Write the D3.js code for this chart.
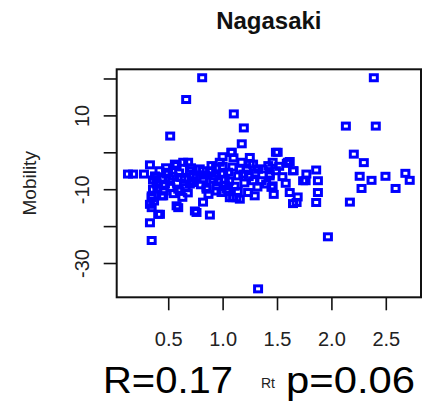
<!DOCTYPE html>
<html><head><meta charset="utf-8">
<script src="https://cdn.jsdelivr.net/npm/d3@7"></script>
<style>body{margin:0;background:#fff}svg{display:block}text{font-family:"Liberation Sans",Arial,sans-serif}</style>
</head><body>
<svg id="c" width="423" height="404"></svg>
<script>
const title = "Nagasaki";
const xLabel = "Rt";
const yLabel = "Mobility";
const rtValues = [
0.13,0.177,0.277,0.332,0.378,0.393,0.348,0.44,0.348,0.408,0.424,0.348,0.332,0.332,0.348,0.518,
0.561,0.683,0.638,0.485,0.515,0.592,0.577,0.592,0.454,0.454,0.47,0.393,0.653,0.715,0.699,0.745,0.76,0.76,0.73,0.73,0.607,0.699,0.5,0.577,
0.665,0.812,
0.79,0.82,0.82,0.852,0.852,0.82,0.883,0.928,0.913,0.944,0.944,0.898,0.974,1.005,1.02,1.05,1.05,1.036,0.99,1.066,1.096,1.127,1.158,1.08,1.084,1.103,1.195,1.176,1.173,1.19,1.142,1.234,1.25,1.25,1.28,1.28,1.357,1.295,1.326,1.326,1.433,1.433,1.449,1.46,1.46,1.49,1.506,1.49,
1.59,1.6,1.617,1.647,1.653,1.77,1.86,1.763,1.74,1.876,1.876,1.86,1.617,1.69,1.647,1.68,1.968,
2.39,2.133,2.408,2.206,2.298,2.26,2.369,2.497,2.68,2.72,2.59,2.277,2.17,
0.36,0.40,0.42,0.44,0.46,0.48,0.52,0.54,0.55,0.58,0.60,0.62,0.63,0.66,0.68,0.71,0.36,0.37,
0.80,0.84,0.87,0.90,0.94,0.96,1.00,1.02,1.06,1.09,1.11,1.14,1.16,1.20,1.22,1.24,1.30,1.32,1.37,1.40,1.42,1.10,1.00,1.52,1.55,1.58,1.47
];
const mobilityValues = [
-5.9,-5.9,-5.9,-3.4,-6.4,-8.6,-11.8,-11.8,-15,-16.8,-16.8,-12.3,-14.1,-19.1,-23.9,4.4,
-3.2,-2.7,-2.7,-5.9,-7.3,-10,-14.5,-15,-9.1,-11.8,-8.6,-6.8,-7.3,-8.2,-8.6,-15.9,-16.3,-6.8,-6.4,-7.7,-10.5,-5,-5.4,-3.6,
14.3,20.2,
-4.5,-5,-7.3,-9.5,-10,-13.5,-17,-6.4,-7.3,-10.5,-9.1,-3.6,-2.7,-5.9,-7.3,-5.4,-10,-10,-10.9,-12.3,-12.3,-12.3,-12.7,0,0,10.4,6.6,2.3,-2.7,-5.9,-6.4,-10.9,-1.4,-3.2,-3.2,-7.7,-7.7,-11.8,-4.6,-37,-5.9,-6.4,-9.5,-2.7,-9.1,0,0,-5,
-3,-2.7,-2.5,-5,-5,-5.9,-4.8,-7.7,-7.7,-7.7,-10.9,-13.6,-10.9,-12.1,-13.9,-13.6,-22.9,
20.2,7.1,7.1,-0.5,-2.8,-6.5,-7.6,-6.5,-5.7,-7.6,-9.8,-9.8,-13.5,
-7.5,-9.8,-5,-7.2,-10.5,-4.2,-9.5,-6.5,-11.2,-8.4,-5.6,-6.8,-12.2,-9.6,-11,-4.2,-10,-13.2,
-8.8,-6.2,-11.4,-5,-4.2,-8,-3.8,-9,-7.8,-4,-9.2,-10.6,-4.6,-8.3,-4.4,-6.6,-5.6,-9.4,-4.5,-8.6,-3.6,-1.5,-1.2,-3.8,-6.6,-8.4,-11.4
];
const xTicks = [0.5,1.0,1.5,2.0,2.5];
const yTicks = [20,10,0,-10,-20,-30];
const yTickLabels = ["","10","","-10","","-30"];
const statLeft = "R=0.17";
const statRight = "p=0.06";

const svg = d3.select("#c");
const L = 116.7, R = 421, T = 69.3, B = 297.3;
function pad(ext){const s=ext[1]-ext[0];return [ext[0]-0.04*s, ext[1]+0.04*s];}
const x = d3.scaleLinear().domain(pad(d3.extent(rtValues))).range([L,R]);
const y = d3.scaleLinear().domain(pad(d3.extent(mobilityValues))).range([B,T]);

const pts = rtValues.map((v,i)=>({x:v,y:mobilityValues[i]}));
svg.append("g").selectAll("rect").data(pts).join("rect")
  .attr("x",d=>x(d.x)-3.5).attr("y",d=>y(d.y)-3)
  .attr("width",7).attr("height",6)
  .attr("fill","none").attr("stroke","#0000ff").attr("stroke-width",3);

svg.append("rect").attr("x",L).attr("y",T).attr("width",R-L).attr("height",B-T)
  .attr("fill","none").attr("stroke","#111").attr("stroke-width",2);

const xa = svg.append("g").attr("transform",`translate(0,${B})`)
  .call(d3.axisBottom(x).tickValues(xTicks).tickFormat(d3.format(".1f")).tickSize(13).tickPadding(22));
xa.select(".domain").remove();
xa.selectAll("line").attr("stroke","#111").attr("stroke-width",1.6);
xa.selectAll("text").attr("font-size",20).attr("fill","#222").attr("font-family","Liberation Sans, Arial, sans-serif");

const ya = svg.append("g").attr("transform",`translate(${L},0)`)
  .call(d3.axisLeft(y).tickValues(yTicks).tickFormat((d,i)=>yTickLabels[i]).tickSize(13));
ya.select(".domain").remove();
ya.selectAll("line").attr("stroke","#111").attr("stroke-width",1.6);
ya.selectAll("text").attr("font-size",20).attr("fill","#222")
  .attr("font-family","Liberation Sans, Arial, sans-serif")
  .attr("text-anchor","middle").attr("dy",0).attr("x",0)
  .attr("transform","translate(-28,0) rotate(-90)");

svg.append("text").attr("x",(L+R)/2).attr("y",29).attr("text-anchor","middle")
  .attr("font-size",24).attr("font-weight","bold").attr("fill","#111").text(title);

svg.append("text").attr("transform",`translate(36,${(T+B)/2}) rotate(-90)`)
  .attr("text-anchor","middle").attr("font-size",19).attr("fill","#222").text(yLabel);

svg.append("text").attr("x",268).attr("y",388).attr("text-anchor","middle")
  .attr("font-size",14).attr("fill","#222").text(xLabel);

svg.append("text").attr("x",103).attr("y",393).attr("font-size",36).attr("fill","#000")
  .attr("textLength",130).attr("lengthAdjust","spacingAndGlyphs").text(statLeft);
svg.append("text").attr("x",286).attr("y",393).attr("font-size",36).attr("fill","#000")
  .attr("textLength",129).attr("lengthAdjust","spacingAndGlyphs").text(statRight);
</script>
</body></html>
